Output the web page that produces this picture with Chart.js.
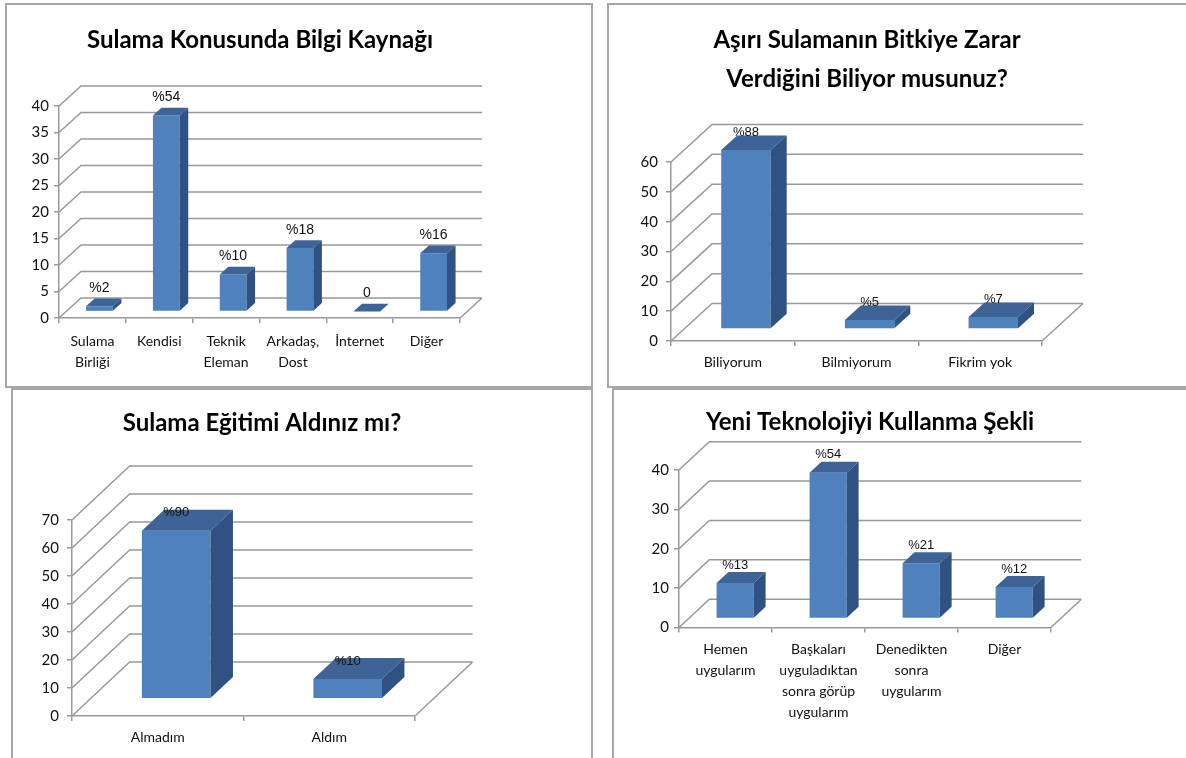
<!DOCTYPE html>
<html>
<head>
<meta charset="utf-8">
<script src="https://cdn.jsdelivr.net/npm/chart.js@4.4.1/dist/chart.umd.min.js"></script>
<style>
  html, body { margin: 0; padding: 0; background: #fff; width: 1186px; height: 758px; overflow: hidden; }
  canvas { position: absolute; }
  .frame { position: absolute; box-sizing: border-box; border: 2px solid #a6a6a6; pointer-events: none; }
</style>
</head>
<body>
<canvas id="kaynak"></canvas>
<canvas id="zarar"></canvas>
<canvas id="egitim"></canvas>
<canvas id="teknoloji"></canvas>
<div class="frame" style="left:5px;top:3px;width:588px;height:385px"></div>
<div class="frame" style="left:607px;top:3px;width:600px;height:385px"></div>
<div class="frame" style="left:11px;top:388px;width:582px;height:400px"></div>
<div class="frame" style="left:612px;top:388px;width:600px;height:400px"></div>
<script>
// --- Sulama Konusunda Bilgi Kaynağı ---
const kaynakLabels = [['Sulama', 'Birliği'], 'Kendisi', ['Teknik', 'Eleman'], ['Arkadaş,', 'Dost'], 'İnternet', 'Diğer'];
const kaynakValues = [1, 37, 7, 12, 0, 11];
const kaynakPct = ['%2', '%54', '%10', '%18', '0', '%16'];

// --- Aşırı Sulamanın Bitkiye Zarar Verdiğini Biliyor musunuz? ---
const zararLabels = ['Biliyorum', 'Bilmiyorum', 'Fikrim yok'];
const zararValues = [60, 3, 4];
const zararPct = ['%88', '%5', '%7'];

// --- Sulama Eğitimi Aldınız mı? ---
const egitimLabels = ['Almadım', 'Aldım'];
const egitimValues = [60, 7];
const egitimPct = ['%90', '%10'];

// --- Yeni Teknolojiyi Kullanma Şekli ---
const teknolojiLabels = [['Hemen', 'uygularım'], ['Başkaları', 'uyguladıktan', 'sonra görüp', 'uygularım'], ['Denedikten', 'sonra', 'uygularım'], 'Diğer'];
const teknolojiValues = [9, 37, 14, 8];
const teknolojiPct = ['%13', '%54', '%21', '%12'];

const FRONT = '#4f81bd';
const TOP = '#3e6396';
const SIDE = '#2f5283';
const GRID = '#999999';
const TEXT = '#111';

// Pseudo-3D column look: back wall, side wall, floor, box faces and value labels.
function make3d(spec, texts) {
  const sx = spec.dx * 0.32, sy = spec.dy * 0.32;   // bar front face sits a bit into the floor
  const ddx = spec.dx * 0.39, ddy = spec.dy * 0.39; // bar depth
  return {
    id: 'depth3d',
    beforeDatasetsDraw(chart) {
      const { ctx, chartArea: a, scales: { y } } = chart;
      ctx.save();
      ctx.strokeStyle = GRID;
      ctx.lineWidth = 1.5;
      ctx.beginPath();
      y.ticks.forEach(t => {
        const py = y.getPixelForValue(t.value);
        ctx.moveTo(a.left, py);
        ctx.lineTo(a.left + spec.dx, py + spec.dy);
        ctx.lineTo(a.right + spec.dx, py + spec.dy);
      });
      const p0 = y.getPixelForValue(y.min);
      ctx.moveTo(a.right, p0);
      ctx.lineTo(a.right + spec.dx, p0 + spec.dy);
      ctx.stroke();
      ctx.restore();
    },
    beforeDatasetDraw(chart) {
      chart.ctx.save();
      chart.ctx.translate(sx, sy);
    },
    afterDatasetDraw(chart, args) {
      const ctx = chart.ctx;
      args.meta.data.forEach(bar => {
        const { x, y, base, width } = bar.getProps(['x', 'y', 'base', 'width'], true);
        const l = x - width / 2, r = x + width / 2;
        ctx.fillStyle = TOP;
        ctx.beginPath();
        ctx.moveTo(l, y); ctx.lineTo(r, y); ctx.lineTo(r + ddx, y + ddy); ctx.lineTo(l + ddx, y + ddy);
        ctx.closePath(); ctx.fill();
        ctx.fillStyle = SIDE;
        ctx.beginPath();
        ctx.moveTo(r, y); ctx.lineTo(r + ddx, y + ddy); ctx.lineTo(r + ddx, base + ddy); ctx.lineTo(r, base);
        ctx.closePath(); ctx.fill();
      });
      ctx.restore();
    },
    afterDatasetsDraw(chart) {
      const ctx = chart.ctx;
      const meta = chart.getDatasetMeta(0);
      ctx.save();
      ctx.font = spec.valueFont;
      ctx.fillStyle = TEXT;
      ctx.textAlign = 'center';
      ctx.textBaseline = 'middle';
      meta.data.forEach((bar, i) => {
        ctx.fillText(texts[i], bar.x + sx, bar.y + sy - 18);
      });
      ctx.restore();
    }
  };
}

function build(id, spec, labels, values, texts) {
  const cv = document.getElementById(id);
  cv.width = spec.w; cv.height = spec.h;
  cv.style.left = spec.left + 'px';
  cv.style.top = spec.top + 'px';
  const lines = Array.isArray(spec.title) ? spec.title.length : 1;
  const lh = spec.titleSize * spec.titleLH;
  const padTop = spec.titleY - lh / 2;
  const padBottom = spec.T - padTop - lines * lh;
  return new Chart(cv, {
    type: 'bar',
    data: {
      labels: labels,
      datasets: [{ data: values, backgroundColor: FRONT, borderWidth: 0, categoryPercentage: 1, barPercentage: 0.4, clip: false }]
    },
    options: {
      responsive: false,
      animation: false,
      events: [],
      layout: { padding: 0 },
      plugins: {
        legend: { display: false },
        tooltip: { enabled: false },
        title: {
          display: true,
          text: spec.title,
          color: '#000',
          font: { family: 'Lato', weight: 'bold', size: spec.titleSize, lineHeight: spec.titleLH },
          padding: { top: padTop, bottom: padBottom }
        }
      },
      scales: {
        x: {
          grid: { drawOnChartArea: false, offset: true, tickLength: 5, color: GRID, lineWidth: 1.5 },
          border: { display: true, color: GRID, width: 1.5 },
          ticks: { font: { family: 'Lato', size: 14, lineHeight: spec.xLH }, color: TEXT, padding: spec.xPad, maxRotation: 0, autoSkip: false },
          afterFit: s => { s.height = spec.h - spec.B; }
        },
        y: {
          min: 0, max: spec.ymax,
          ticks: { stepSize: spec.step, font: { family: 'Lato', size: 15 }, color: TEXT, padding: spec.yPad },
          grid: { drawOnChartArea: false, tickLength: 5, color: GRID, lineWidth: 1.5 },
          border: { display: true, color: GRID, width: 1.5 },
          afterFit: s => { s.width = spec.L; }
        },
        yr: {
          type: 'linear', position: 'right', display: true,
          grid: { display: false }, border: { display: false }, ticks: { display: false },
          afterFit: s => { s.width = spec.w - spec.R; }
        }
      }
    },
    plugins: [make3d(spec, texts)]
  });
}

build('kaynak', {
  left: 6, top: 4, w: 508, h: 383, L: 53, R: 454, T: 102, B: 314,
  dx: 22, dy: -20, ymax: 40, step: 5,
  title: 'Sulama Konusunda Bilgi Kaynağı', titleSize: 24, titleLH: 1.2, titleY: 36,
  xLH: 1.5, xPad: 8, yPad: 5, valueFont: '14px "Liberation Sans"'
}, kaynakLabels, kaynakValues, kaynakPct);

build('zarar', {
  left: 608, top: 4, w: 518, h: 383, L: 63, R: 434, T: 158, B: 337,
  dx: 41, dy: -37.5, ymax: 60, step: 10,
  title: ['Aşırı Sulamanın Bitkiye Zarar', 'Verdiğini Biliyor musunuz?'], titleSize: 24, titleLH: 1.625, titleY: 36,
  xLH: 1.5, xPad: 6, yPad: 8, valueFont: '13px "Liberation Sans"'
}, zararLabels, zararValues, zararPct);

build('egitim', {
  left: 12, top: 389, w: 500, h: 369, L: 60, R: 403, T: 131, B: 327,
  dx: 57.6, dy: -54, ymax: 70, step: 10,
  title: 'Sulama Eğitimi Aldınız mı?', titleSize: 24, titleLH: 1.2, titleY: 34,
  xLH: 1.5, xPad: 6, yPad: 8, valueFont: '13px "Liberation Sans"'
}, egitimLabels, egitimValues, egitimPct);

build('teknoloji', {
  left: 613, top: 389, w: 514, h: 369, L: 66, R: 438, T: 81, B: 238.5,
  dx: 30.3, dy: -28.3, ymax: 40, step: 10,
  title: 'Yeni Teknolojiyi Kullanma Şekli', titleSize: 24, titleLH: 1.2, titleY: 33,
  xLH: 1.49, xPad: 7, yPad: 5, valueFont: '13px "Liberation Sans"'
}, teknolojiLabels, teknolojiValues, teknolojiPct);
</script>
</body>
</html>
